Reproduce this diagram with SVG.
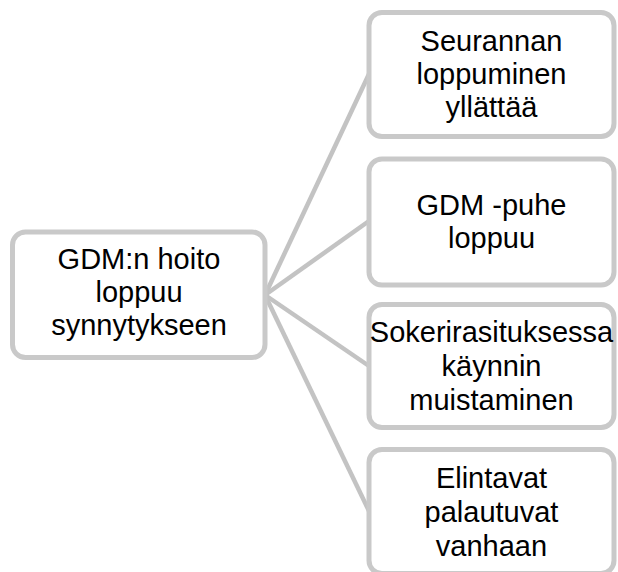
<svg xmlns="http://www.w3.org/2000/svg" width="618" height="572" viewBox="0 0 618 572">
  <style>
    .box { fill: #ffffff; stroke: #c9c9c9; stroke-width: 5; }
    .link { stroke: #c3c3c3; stroke-width: 4.5; fill: none; }
    .label { font-family: "Liberation Sans", Arial, sans-serif; font-size: 29px; fill: #000000; text-anchor: middle; }
  </style>
  <rect width="618" height="572" fill="#ffffff"/>

  <!-- connectors from the root to each branch -->
  <g id="connectors">
    <line class="link" x1="265" y1="295" x2="369" y2="74"/>
    <line class="link" x1="265" y1="295" x2="369" y2="221"/>
    <line class="link" x1="265" y1="295" x2="369" y2="366"/>
    <line class="link" x1="265" y1="295" x2="369" y2="511"/>
  </g>

  <g id="root">
    <rect class="box" x="12.5" y="232" width="252.5" height="125.5" rx="13"/>
    <text class="label" x="139" y="269">GDM:n hoito</text>
    <text class="label" x="139" y="302">loppuu</text>
    <text class="label" x="139" y="335">synnytykseen</text>
  </g>

  <g id="seuranta">
    <rect class="box" x="369" y="12.5" width="245" height="124" rx="13"/>
    <text class="label" x="491.5" y="51">Seurannan</text>
    <text class="label" x="491.5" y="84">loppuminen</text>
    <text class="label" x="491.5" y="117">yllättää</text>
  </g>

  <g id="puhe">
    <rect class="box" x="369" y="159" width="245" height="126" rx="13"/>
    <text class="label" x="491.5" y="215">GDM -puhe</text>
    <text class="label" x="491.5" y="248">loppuu</text>
  </g>

  <g id="sokerirasitus">
    <rect class="box" x="369" y="304.5" width="245" height="123" rx="13"/>
    <text class="label" x="491.5" y="342">Sokerirasituksessa</text>
    <text class="label" x="491.5" y="376">käynnin</text>
    <text class="label" x="491.5" y="410">muistaminen</text>
  </g>

  <g id="elintavat">
    <rect class="box" x="369" y="449.5" width="245" height="124" rx="13"/>
    <text class="label" x="491.5" y="488">Elintavat</text>
    <text class="label" x="491.5" y="522">palautuvat</text>
    <text class="label" x="491.5" y="556">vanhaan</text>
  </g>
</svg>
